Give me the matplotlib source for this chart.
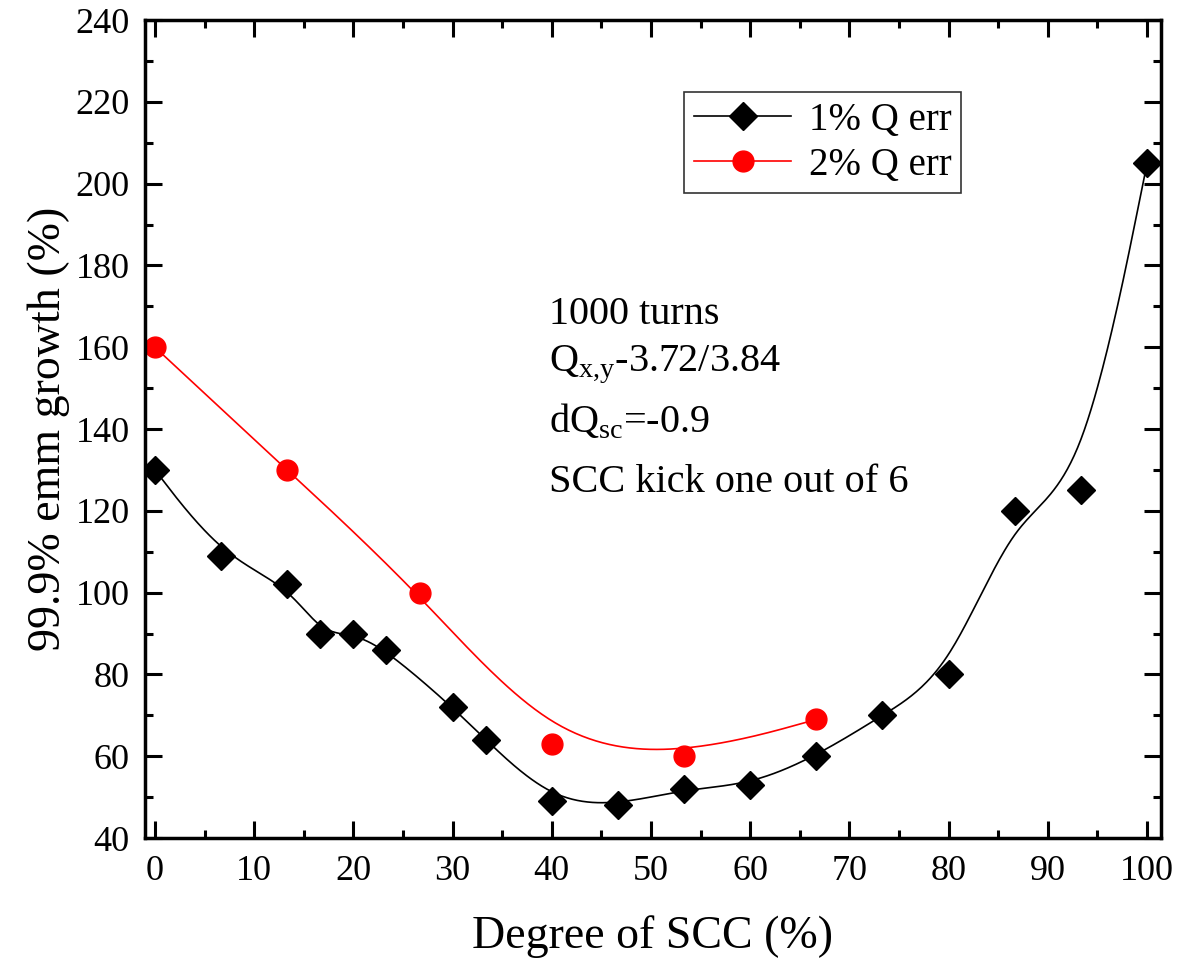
import numpy as np
import matplotlib.pyplot as plt
from matplotlib.ticker import MultipleLocator

plt.rcParams['font.family'] = ['Liberation Serif', 'DejaVu Serif']
plt.rcParams['mathtext.fontset'] = 'custom'
plt.rcParams['mathtext.rm'] = 'Liberation Serif'

# data
scc_1 = [0, 6.67, 13.33, 16.67, 20, 23.33, 30, 33.33, 40, 46.67, 53.33, 60,
         66.67, 73.33, 80, 86.67, 93.33, 100]
growth_1 = [130, 109, 102, 90, 90, 86, 72, 64, 49, 48, 52, 53, 60, 70, 80,
            120, 125, 205]
scc_2 = [0, 13.33, 26.67, 40, 53.33, 66.67]
growth_2 = [160, 130, 100, 63, 60, 69]


def bspline(xs, ys, n=40):
    # uniform cubic B-spline using the points as control points (clamped ends)
    p = np.column_stack([xs, ys]).astype(float)
    p = np.vstack([p[0], p[0], p, p[-1], p[-1]])
    t = np.linspace(0, 1, n)
    b0 = (1 - t) ** 3 / 6
    b1 = (3 * t**3 - 6 * t**2 + 4) / 6
    b2 = (-3 * t**3 + 3 * t**2 + 3 * t + 1) / 6
    b3 = t**3 / 6
    out = []
    for i in range(len(p) - 3):
        seg = (np.outer(b0, p[i]) + np.outer(b1, p[i + 1]) +
               np.outer(b2, p[i + 2]) + np.outer(b3, p[i + 3]))
        out.append(seg)
    out = np.vstack(out)
    return out[:, 0], out[:, 1]


fig = plt.figure(figsize=(11.77, 9.73), dpi=100)
ax = fig.add_axes([0.1232, 0.1387, 0.8632, 0.8407])

bx, by = bspline(scc_1, growth_1)
rx, ry = bspline(scc_2, growth_2)
ax.plot(bx, by, color='black', lw=1.2)
ax.plot(rx, ry, color='red', lw=1.2)
ax.plot(scc_1, growth_1, 'D', color='black', ms=14, ls='none')
ax.plot(scc_2, growth_2, 'o', color='red', ms=15, ls='none')

# legend proxies
h1, = ax.plot([], [], color='black', lw=1.2, marker='D', ms=14)
h2, = ax.plot([], [], color='red', lw=1.2, marker='o', ms=15)
leg = ax.legend([h1, h2], ['1% Q err', '2% Q err'], loc='upper left',
                bbox_to_anchor=(0.531, 0.912), fontsize=28, frameon=True,
                fancybox=False, edgecolor='black', handlelength=2.5,
                borderpad=0.25, labelspacing=0.2, handletextpad=0.45,
                borderaxespad=0)
leg.get_frame().set_linewidth(1.2)

ax.text(39.7, 165.7, '1000 turns', fontsize=29, va='baseline')
ax.text(39.7, 154.0, r'Q$_{\mathrm{x{,}y}}$-3.72/3.84', fontsize=29, va='baseline')
ax.text(39.7, 139.3, r'dQ$_{\mathrm{sc}}$=-0.9', fontsize=29, va='baseline')
ax.text(39.7, 124.6, 'SCC kick one out of 6', fontsize=29, va='baseline')

ax.set_xlim(-1, 101.4)
ax.set_ylim(40, 240)
ax.xaxis.set_major_locator(MultipleLocator(10))
ax.xaxis.set_minor_locator(MultipleLocator(5))
ax.yaxis.set_major_locator(MultipleLocator(20))
ax.yaxis.set_minor_locator(MultipleLocator(10))
ax.tick_params(which='both', direction='in', top=True, right=True, width=2.2,
               labelsize=26)
ax.tick_params(which='major', length=12, pad=12)
ax.tick_params(which='minor', length=6)
ax.tick_params(axis='x', labeltop=False)
ax.tick_params(axis='y', labelright=False, pad=11)
for s in ax.spines.values():
    s.set_linewidth(2.5)

ax.set_xlabel('Degree of SCC (%)', fontsize=33, labelpad=20)
ax.set_ylabel('99.9% emm growth (%)', fontsize=33, labelpad=4)

fig.savefig('out.png', dpi=100)
